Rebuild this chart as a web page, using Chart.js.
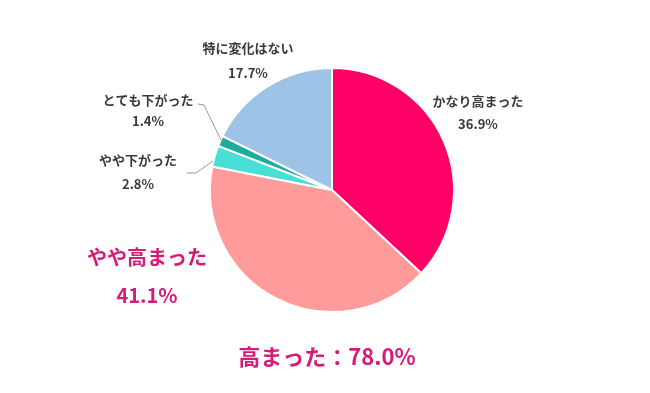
<!DOCTYPE html>
<html><head><meta charset="utf-8">
<script src="https://cdn.jsdelivr.net/npm/chart.js@4/dist/chart.umd.min.js"></script>
<style>html,body{margin:0;padding:0;background:#fff}#w{width:650px;height:393px}</style>
</head><body><div id="w"><canvas id="c" width="650" height="393"></canvas></div>
<script>
const categories = ["かなり高まった", "やや高まった", "やや下がった", "とても下がった", "特に変化はない"];
const values = [36.9, 41.1, 2.8, 1.4, 17.7];
const colors = ["#FF0066", "#FF9B9B", "#48E0D6", "#1FAAA2", "#9DC3E6"];
const totalLabel = "高まった：78.0%";

const F = '"Noto Sans CJK JP","Noto Sans",sans-serif';
const labelPlugin = {
  id: 'labels',
  afterDraw(chart) {
    const ctx = chart.ctx;
    ctx.save();
    ctx.textAlign = 'center';
    ctx.textBaseline = 'middle';
    ctx.strokeStyle = '#999';
    ctx.lineWidth = 1;
    ctx.beginPath();
    ctx.moveTo(198, 104); ctx.lineTo(204, 105); ctx.lineTo(221, 140);
    ctx.moveTo(187, 173); ctx.lineTo(196, 173); ctx.lineTo(213, 161);
    ctx.stroke();
    const small = [
      [4, 248, 48, 73],
      [3, 148, 100, 121],
      [2, 138, 160, 184],
      [0, 478, 101, 124]
    ];
    ctx.fillStyle = '#3a3a3a';
    ctx.font = 'bold 13px ' + F;
    for (const [i, x, y1, y2] of small) {
      ctx.fillText(categories[i], x, y1);
      ctx.fillText(values[i].toFixed(1) + '%', x, y2);
    }
    ctx.fillStyle = '#D81B78';
    ctx.font = 'bold 20px ' + F;
    ctx.fillText(categories[1], 147, 257);
    ctx.fillText(values[1].toFixed(1) + '%', 147, 295);
    ctx.font = 'bold 22px ' + F;
    ctx.fillText(totalLabel, 327, 357);
    ctx.restore();
  }
};

new Chart(document.getElementById('c'), {
  type: 'pie',
  data: {
    labels: categories,
    datasets: [{
      data: values,
      backgroundColor: colors,
      borderColor: '#fff',
      borderWidth: 2
    }]
  },
  options: {
    responsive: false,
    animation: false,
    layout: { padding: { left: 209, right: 195, top: 67, bottom: 80 } },
    plugins: { legend: { display: false }, tooltip: { enabled: false } }
  },
  plugins: [labelPlugin]
});
</script></body></html>
